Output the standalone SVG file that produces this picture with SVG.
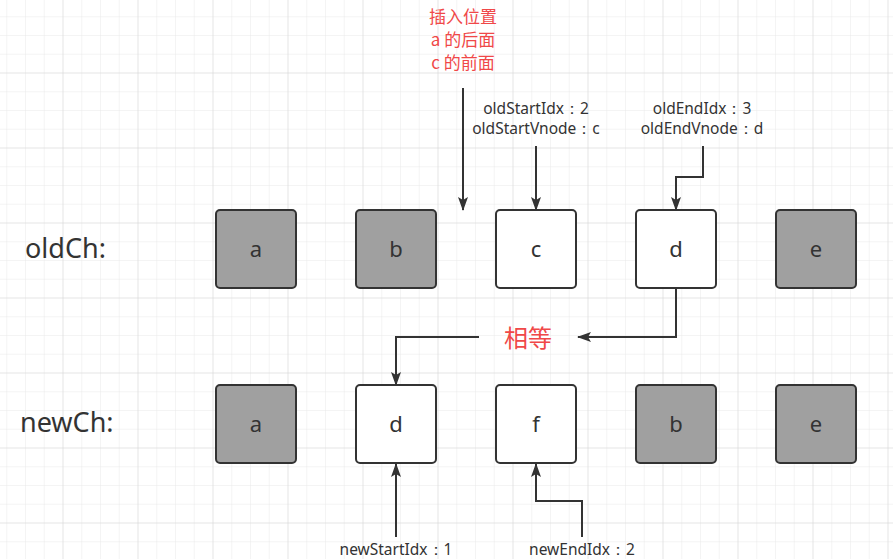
<svg xmlns="http://www.w3.org/2000/svg" width="893" height="559" viewBox="0 0 893 559">
<defs>
<pattern id="minor" patternUnits="userSpaceOnUse" x="62.5" y="72.5" width="18.75" height="18.75">
<path d="M0 0H18.75M0 0V18.75" fill="none" stroke="#e9e9e9" stroke-width="1"/>
</pattern>
<pattern id="major" patternUnits="userSpaceOnUse" x="62.5" y="72.5" width="75" height="75">
<path d="M0 0H75M0 0V75" fill="none" stroke="#d9d9d9" stroke-width="1"/>
</pattern>
<marker id="arr" viewBox="0 0 14 10" refX="13" refY="5" markerWidth="7" markerHeight="5" orient="auto" markerUnits="strokeWidth">
<path d="M0 0L14 5L0 10L3 5Z" fill="#333"/>
</marker>
<style>
.box{stroke:#333;stroke-width:2}
.g{fill:#a0a0a0}
.w{fill:#fff}
.lt{font-family:"Noto Sans","Liberation Sans",sans-serif;font-size:22px;fill:#333;text-anchor:middle}
.lbl{font-family:"Noto Sans","Liberation Sans",sans-serif;font-size:15.5px;fill:#333;text-anchor:middle}
.row{font-family:"Noto Sans","Liberation Sans",sans-serif;font-size:27px;fill:#333}
.red{font-family:"Noto Sans CJK SC","Noto Sans",sans-serif;fill:#f04848;text-anchor:middle}
.edge{fill:none;stroke:#333;stroke-width:2;marker-end:url(#arr)}
</style>
</defs>
<rect width="893" height="559" fill="#fff"/>
<rect width="893" height="559" fill="url(#minor)"/>
<rect width="893" height="559" fill="url(#major)"/>

<text class="row" x="25" y="258">oldCh:</text>
<text class="row" x="20" y="432">newCh:</text>

<g id="old-a"><rect class="box g" x="216" y="210" width="80" height="78" rx="4"/><text class="lt" x="256" y="257">a</text></g>
<g id="old-b"><rect class="box g" x="356" y="210" width="80" height="78" rx="4"/><text class="lt" x="396" y="257">b</text></g>
<g id="old-c"><rect class="box w" x="496" y="210" width="80" height="78" rx="4"/><text class="lt" x="536" y="257">c</text></g>
<g id="old-d"><rect class="box w" x="636" y="210" width="80" height="78" rx="4"/><text class="lt" x="676" y="257">d</text></g>
<g id="old-e"><rect class="box g" x="776" y="210" width="80" height="78" rx="4"/><text class="lt" x="816" y="257">e</text></g>

<g id="new-a"><rect class="box g" x="216" y="385" width="80" height="78" rx="4"/><text class="lt" x="256" y="432">a</text></g>
<g id="new-d"><rect class="box w" x="356" y="385" width="80" height="78" rx="4"/><text class="lt" x="396" y="432">d</text></g>
<g id="new-f"><rect class="box w" x="496" y="385" width="80" height="78" rx="4"/><text class="lt" x="536" y="432">f</text></g>
<g id="new-b"><rect class="box g" x="636" y="385" width="80" height="78" rx="4"/><text class="lt" x="676" y="432">b</text></g>
<g id="new-e"><rect class="box g" x="776" y="385" width="80" height="78" rx="4"/><text class="lt" x="816" y="432">e</text></g>

<g id="insert-label">
<text class="red" font-size="17" x="463" y="23">插入位置</text>
<text class="red" font-size="17" x="463" y="46">a 的后面</text>
<text class="red" font-size="17" x="463" y="69">c 的前面</text>
</g>
<g id="old-start-label">
<text class="lbl" x="536" y="114">oldStartIdx：2</text>
<text class="lbl" x="536" y="134">oldStartVnode：c</text>
</g>
<g id="old-end-label">
<text class="lbl" x="702" y="114">oldEndIdx：3</text>
<text class="lbl" x="702" y="134">oldEndVnode：d</text>
</g>
<g id="equal-label">
<text class="red" font-size="24" x="528" y="347">相等</text>
</g>
<g id="new-start-label"><text class="lbl" x="396" y="555">newStartIdx：1</text></g>
<g id="new-end-label"><text class="lbl" x="582" y="555">newEndIdx：2</text></g>

<g id="connectors">
<path class="edge" d="M463 88V210"/>
<path class="edge" d="M536 146V210"/>
<path class="edge" d="M703 146V177H676V210"/>
<path class="edge" d="M676 288V337H578"/>
<path class="edge" d="M479 337H396V385"/>
<path class="edge" d="M396 537V464"/>
<path class="edge" d="M582 537V501H536V464"/>
</g>
</svg>
